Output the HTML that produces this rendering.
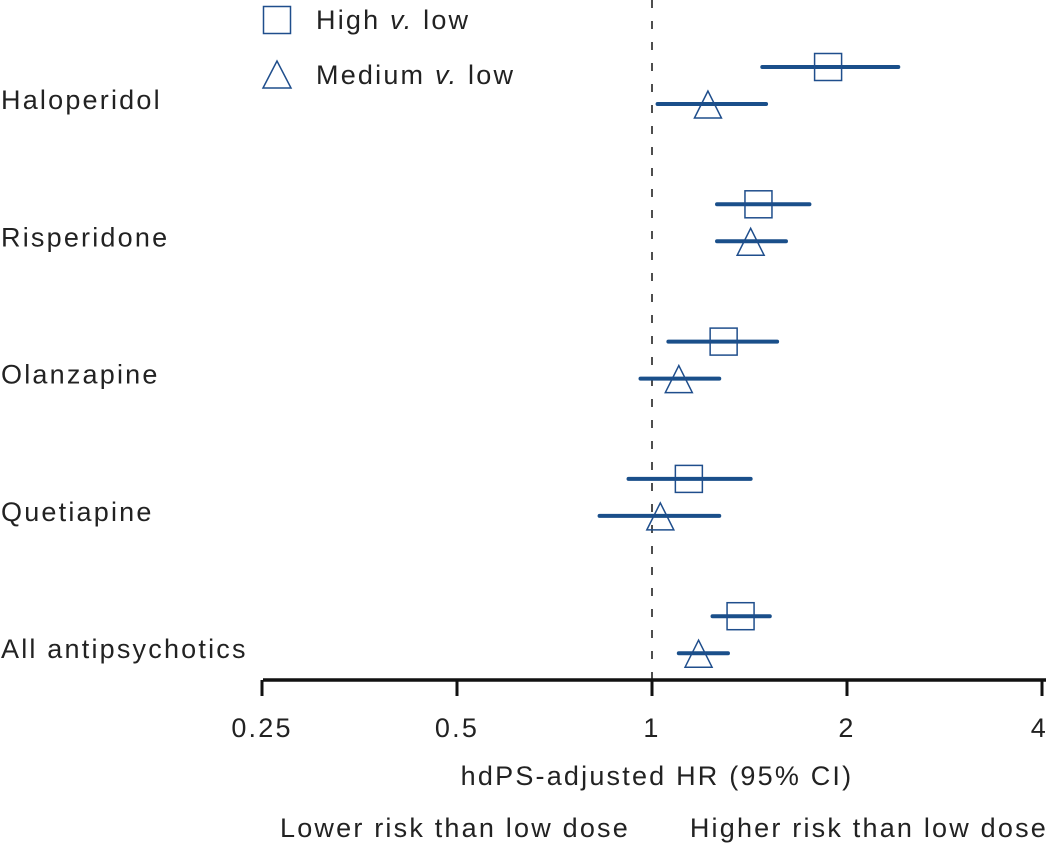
<!DOCTYPE html>
<html><head><meta charset="utf-8"><style>
body{margin:0;background:#fff}
svg{display:block;font-family:"Liberation Sans",sans-serif}
text{fill:#222;font-size:27px;letter-spacing:2.2px}
</style></head><body>
<svg id="c" width="1048" height="846">
<line x1="652" y1="0" x2="652" y2="680" stroke="#222" stroke-width="1.6" stroke-dasharray="8,13"/>
<line x1="263" y1="680" x2="1046" y2="680" stroke="#111" stroke-width="3.5"/>
<g id="ticks"></g><g id="rows"></g>
<g>
<rect x="263.5" y="6.5" width="27" height="27" fill="none" stroke="#1f4e8c" stroke-width="1.5"/>
<text x="316" y="29">High <tspan font-style="italic">v.</tspan> low</text>
<polygon points="277,61 263,88 291,88" fill="none" stroke="#1f4e8c" stroke-width="1.5"/>
<text x="316" y="84">Medium <tspan font-style="italic">v.</tspan> low</text>
</g>
<text x="657" y="785" text-anchor="middle">hdPS-adjusted HR (95% CI)</text>
<text x="280" y="837">Lower risk than low dose</text>
<text x="1048" y="837" text-anchor="end">Higher risk than low dose</text>
</svg>
<script>
const drugs=["Haloperidol","Risperidone","Olanzapine","Quetiapine","All antipsychotics"];
const highHR=[1.87,1.46,1.29,1.14,1.37];
const highLo=[1.48,1.26,1.06,0.92,1.24];
const highHi=[2.40,1.75,1.56,1.42,1.52];
const medHR=[1.22,1.42,1.10,1.03,1.18];
const medLo=[1.02,1.26,0.96,0.83,1.10];
const medHi=[1.50,1.61,1.27,1.27,1.31];
const tickVals=[0.25,0.5,1,2,4];
const tickLabels=["0.25","0.5","1","2","4"];
const NS="http://www.w3.org/2000/svg";
const x=v=>652+195*Math.log2(v);
const rowY=i=>67+137.3*i;
function mk(t,a,p){const e=document.createElementNS(NS,t);for(const k in a)e.setAttribute(k,a[k]);p.appendChild(e);return e;}
const tg=document.getElementById('ticks');
tickVals.forEach((v,i)=>{
 const l=mk('line',{x1:x(v),x2:x(v),y1:680,y2:696,stroke:'#111','stroke-width':3},tg);
 
 
 const anchor=i===tickVals.length-1?'end':'middle';
 const t=mk('text',{x:i===tickVals.length-1?1048:x(v),y:737,'text-anchor':anchor},tg);t.textContent=tickLabels[i];
 
 
});
const rg=document.getElementById('rows');
drugs.forEach((d,i)=>{
 const y=rowY(i),y2=y+37;
 const lab=mk('text',{x:1,y:y+42},rg);lab.textContent=d;
 
 
 const c1=mk('line',{x1:x(highLo[i]),x2:x(highHi[i]),y1:y,y2:y,stroke:'#1a4f8a','stroke-width':4,'stroke-linecap':'round'},rg);
 
 
 const s=mk('rect',{x:x(highHR[i])-13.5,y:y-13.5,width:27,height:27,fill:'none',stroke:'#1f4e8c','stroke-width':1.5},rg);
 
 
 const c2=mk('line',{x1:x(medLo[i]),x2:x(medHi[i]),y1:y2,y2:y2,stroke:'#1a4f8a','stroke-width':4,'stroke-linecap':'round'},rg);
 
 
 const cx=x(medHR[i]);
 const tr=mk('polygon',{points:`${cx},${y2-13} ${cx-13.5},${y2+14} ${cx+13.5},${y2+14}`,fill:'none',stroke:'#1f4e8c','stroke-width':1.5},rg);
 
 
});
</script>
</body></html>
